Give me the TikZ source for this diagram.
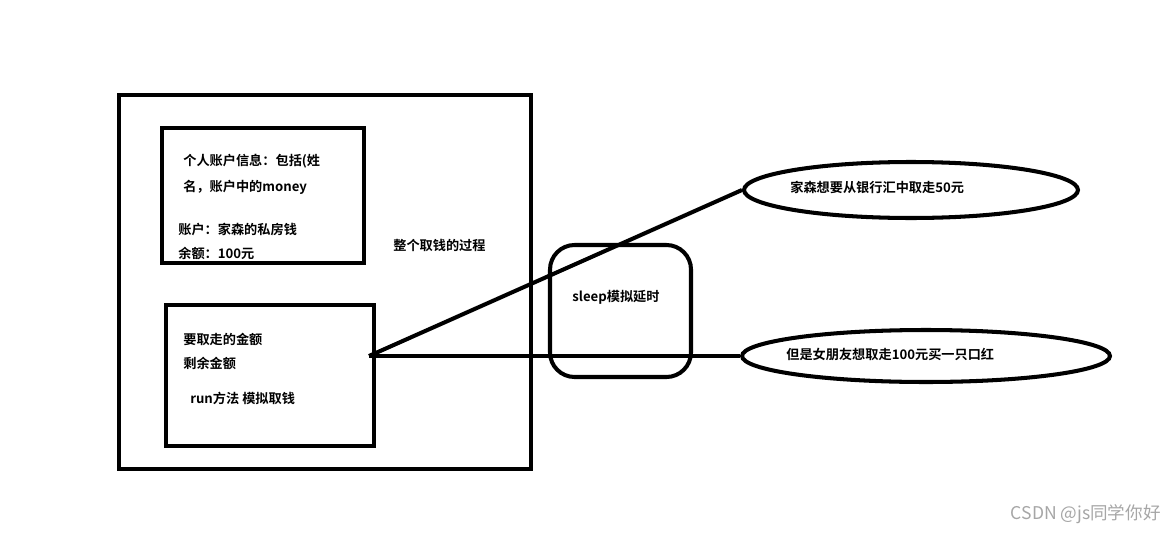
\documentclass[tikz,border=0pt]{standalone}
\usepackage{fontspec}
\newfontfamily\cjk{Noto Sans CJK SC}[BoldFont={Noto Sans CJK SC Bold}]
\usetikzlibrary{shapes.geometric}
\begin{document}
\begin{tikzpicture}[x=0.02cm,y=-0.02cm,
        every node/.style={font=\cjk\bfseries\fontsize{7.5}{9}\selectfont},
        heavy/.style={draw, line width=2.3pt},
        txt/.style={anchor=west, inner sep=0pt}]
        \useasboundingbox (0,0) rectangle (1176,534);
        % boxes
        \draw[heavy] (119,95) rectangle (531,469);
        \draw[heavy] (162,128) rectangle (364,263);
        \draw[heavy] (166,305) rectangle (374,446);
        \draw[heavy, rounded corners=14pt] (550,245) rectangle (691,377);

        \node[txt] (t1) at (183,161) {个人账户信息：包括(姓};
        \node[txt] (t2) at (183,187) {名，账户中的money};
        \node[txt] (t3) at (178,229) {账户：家森的私房钱};
        \node[txt] (t4) at (178,253) {余额：100元};
        \node[txt] (t5) at (183,339) {要取走的金额};
        \node[txt] (t6) at (183,363) {剩余金额};
        \node[txt] (t7) at (190,398) {run方法 模拟取钱};
        \node[txt] (whole) at (393,245) {整个取钱的过程};
        \node[txt] (sleep) at (572,297) {sleep模拟延时};

        % ellipses
        \node[heavy, ellipse, minimum width=334\pgflinewidth*0+6.68cm, minimum height=1.12cm] (E1) at (911,190) {};
        \node[heavy, ellipse, minimum width=7.36cm, minimum height=1.04cm] (E2) at (926,356) {};
        \node[txt] (e1t) at (790,187) {家森想要从银行汇中取走50元};
        \node[txt] (e2t) at (786,354) {但是女朋友想取走100元买一只口红};

        % connectors
        \coordinate (P) at (369,356);
        \draw[line width=2.3pt] (P) -- (E1.west);
        \draw[line width=2.3pt] (P) -- (E2.west);

        \node[anchor=east, inner sep=0pt, text=gray!70, font=\cjk\fontsize{10}{12}\selectfont] (mark) at (1161,514) {CSDN @js同学你好};
\end{tikzpicture}
\end{document}
